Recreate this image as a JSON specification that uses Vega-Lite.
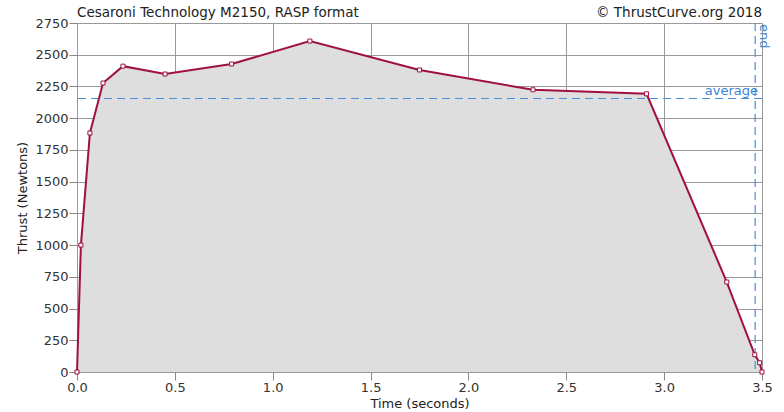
{
  "$schema": "https://vega.github.io/schema/vega-lite/v6.json",
  "autosize": "none",
  "width": 685,
  "height": 349,
  "padding": {"left": 77, "top": 23, "right": 22, "bottom": 40},
  "background": "white",
  "config": {
    "font": "DejaVu Sans",
    "view": {"stroke": "#999999", "strokeWidth": 1},
    "axis": {
      "labelFont": "DejaVu Sans", "labelFontSize": 13, "labelColor": "#333333",
      "titleFont": "DejaVu Sans", "titleFontSize": 13, "titleFontWeight": "normal", "titleColor": "#222222",
      "gridColor": "#999999", "gridOpacity": 1, "gridWidth": 1,
      "domain": false, "tickColor": "#888888", "tickSize": 8,
      "labelFlush": false, "labelOverlap": false, "zindex": 1
    }
  },
  "datasets": {
    "curve": [
      {"t": 0.0, "f": 0},
      {"t": 0.02, "f": 1000},
      {"t": 0.066, "f": 1883},
      {"t": 0.133, "f": 2277},
      {"t": 0.235, "f": 2410},
      {"t": 0.45, "f": 2348},
      {"t": 0.79, "f": 2427},
      {"t": 1.19, "f": 2608},
      {"t": 1.75, "f": 2380},
      {"t": 2.33, "f": 2224},
      {"t": 2.91, "f": 2192},
      {"t": 3.32, "f": 709},
      {"t": 3.463, "f": 136},
      {"t": 3.488, "f": 73},
      {"t": 3.5, "f": 0}
    ]
  },
  "layer": [
    {
      "data": {"name": "curve"},
      "mark": {"type": "area", "color": "#dedede", "opacity": 1},
      "encoding": {
        "x": {"field": "t", "type": "quantitative", "scale": {"domain": [0, 3.5], "nice": false},
              "axis": {"values": [0, 0.5, 1, 1.5, 2, 2.5, 3, 3.5], "format": ".1f", "title": "Time (seconds)", "titlePadding": 3, "labelPadding": 1}},
        "y": {"field": "f", "type": "quantitative", "scale": {"domain": [0, 2750], "nice": false},
              "axis": {"values": [0, 250, 500, 750, 1000, 1250, 1500, 1750, 2000, 2250, 2500, 2750], "format": "d", "title": "Thrust (Newtons)", "titlePadding": 5, "labelPadding": 1}}
      }
    },
    {
      "data": {"values": [{"f": 2155}]},
      "mark": {"type": "rule", "color": "#4a8fd8", "strokeDash": [8, 5], "strokeWidth": 1.2},
      "encoding": {"y": {"field": "f", "type": "quantitative", "scale": {"domain": [0, 2750], "nice": false},
              "axis": {"values": [0, 250, 500, 750, 1000, 1250, 1500, 1750, 2000, 2250, 2500, 2750], "format": "d", "title": "Thrust (Newtons)", "titlePadding": 5, "labelPadding": 1}}}
    },
    {
      "data": {"values": [{"t": 3.465}]},
      "mark": {"type": "rule", "color": "#4a8fd8", "strokeDash": [8, 5], "strokeWidth": 1.2},
      "encoding": {"x": {"field": "t", "type": "quantitative", "scale": {"domain": [0, 3.5], "nice": false},
              "axis": {"values": [0, 0.5, 1, 1.5, 2, 2.5, 3, 3.5], "format": ".1f", "title": "Time (seconds)", "titlePadding": 3, "labelPadding": 1}}}
    },
    {
      "data": {"values": [
        {"t": 3.5, "f": 2155, "label": "average"}
      ]},
      "mark": {"type": "text", "color": "#3a84d6", "align": "right", "baseline": "bottom", "dx": -4, "dy": -1, "fontSize": 13},
      "encoding": {
        "x": {"field": "t", "type": "quantitative", "scale": {"domain": [0, 3.5], "nice": false},
              "axis": {"values": [0, 0.5, 1, 1.5, 2, 2.5, 3, 3.5], "format": ".1f", "title": "Time (seconds)", "titlePadding": 3, "labelPadding": 1}},
        "y": {"field": "f", "type": "quantitative", "scale": {"domain": [0, 2750], "nice": false},
              "axis": {"values": [0, 250, 500, 750, 1000, 1250, 1500, 1750, 2000, 2250, 2500, 2750], "format": "d", "title": "Thrust (Newtons)", "titlePadding": 5, "labelPadding": 1}},
        "text": {"field": "label"}}
    },
    {
      "data": {"values": [{"t": 3.465, "f": 2750, "label": "end"}]},
      "mark": {"type": "text", "color": "#3a84d6", "angle": 90, "align": "left", "baseline": "bottom", "dx": 1, "dy": -2, "fontSize": 13},
      "encoding": {
        "x": {"field": "t", "type": "quantitative", "scale": {"domain": [0, 3.5], "nice": false},
              "axis": {"values": [0, 0.5, 1, 1.5, 2, 2.5, 3, 3.5], "format": ".1f", "title": "Time (seconds)", "titlePadding": 3, "labelPadding": 1}},
        "y": {"field": "f", "type": "quantitative", "scale": {"domain": [0, 2750], "nice": false},
              "axis": {"values": [0, 250, 500, 750, 1000, 1250, 1500, 1750, 2000, 2250, 2500, 2750], "format": "d", "title": "Thrust (Newtons)", "titlePadding": 5, "labelPadding": 1}},
        "text": {"field": "label"}}
    },
    {
      "data": {"name": "curve"},
      "mark": {"type": "line", "color": "#a01040", "strokeWidth": 2, "point": {"shape": "square", "filled": true, "fill": "white", "stroke": "#a01040", "strokeWidth": 1, "size": 16}},
      "encoding": {
        "x": {"field": "t", "type": "quantitative", "scale": {"domain": [0, 3.5], "nice": false},
              "axis": {"values": [0, 0.5, 1, 1.5, 2, 2.5, 3, 3.5], "format": ".1f", "title": "Time (seconds)", "titlePadding": 3, "labelPadding": 1}},
        "y": {"field": "f", "type": "quantitative", "scale": {"domain": [0, 2750], "nice": false},
              "axis": {"values": [0, 250, 500, 750, 1000, 1250, 1500, 1750, 2000, 2250, 2500, 2750], "format": "d", "title": "Thrust (Newtons)", "titlePadding": 5, "labelPadding": 1}}
      }
    },
    {
      "data": {"values": [
        {"t": 0, "f": 2750, "label": "Cesaroni Technology M2150, RASP format"}
      ]},
      "mark": {"type": "text", "color": "#222222", "align": "left", "baseline": "bottom", "dy": -3, "fontSize": 13.5},
      "encoding": {
        "x": {"field": "t", "type": "quantitative", "scale": {"domain": [0, 3.5], "nice": false},
              "axis": {"values": [0, 0.5, 1, 1.5, 2, 2.5, 3, 3.5], "format": ".1f", "title": "Time (seconds)", "titlePadding": 3, "labelPadding": 1}},
        "y": {"field": "f", "type": "quantitative", "scale": {"domain": [0, 2750], "nice": false},
              "axis": {"values": [0, 250, 500, 750, 1000, 1250, 1500, 1750, 2000, 2250, 2500, 2750], "format": "d", "title": "Thrust (Newtons)", "titlePadding": 5, "labelPadding": 1}},
        "text": {"field": "label"}}
    },
    {
      "data": {"values": [
        {"t": 3.5, "f": 2750, "label": "© ThrustCurve.org 2018"}
      ]},
      "mark": {"type": "text", "color": "#222222", "align": "right", "baseline": "bottom", "dy": -3, "fontSize": 13.5},
      "encoding": {
        "x": {"field": "t", "type": "quantitative", "scale": {"domain": [0, 3.5], "nice": false},
              "axis": {"values": [0, 0.5, 1, 1.5, 2, 2.5, 3, 3.5], "format": ".1f", "title": "Time (seconds)", "titlePadding": 3, "labelPadding": 1}},
        "y": {"field": "f", "type": "quantitative", "scale": {"domain": [0, 2750], "nice": false},
              "axis": {"values": [0, 250, 500, 750, 1000, 1250, 1500, 1750, 2000, 2250, 2500, 2750], "format": "d", "title": "Thrust (Newtons)", "titlePadding": 5, "labelPadding": 1}},
        "text": {"field": "label"}}
    }
  ]
}
